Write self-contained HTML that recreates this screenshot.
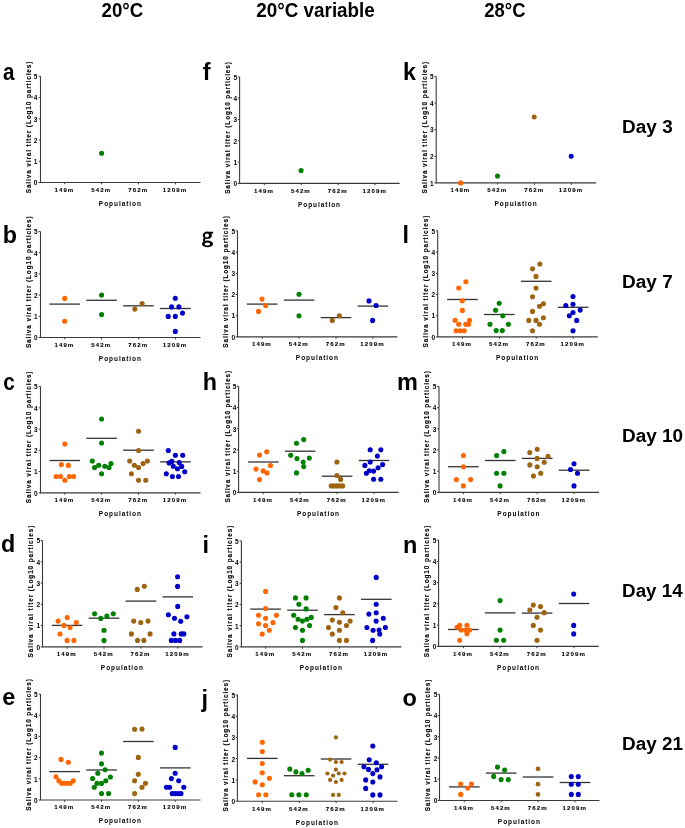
<!DOCTYPE html><html><head><meta charset="utf-8"><style>html,body{margin:0;padding:0;background:#fff;overflow:hidden;}svg{display:block;will-change:transform}text{font-family:"Liberation Sans",sans-serif;font-weight:bold}</style></head><body>
<svg width="685" height="828" viewBox="0 0 685 828">
<rect width="685" height="828" fill="#fff"/>
<text x="122.35" y="16.5" font-size="19.3" text-anchor="middle" textLength="41.6" lengthAdjust="spacingAndGlyphs">20°C</text>
<text x="315.55" y="16.8" font-size="19.3" text-anchor="middle" textLength="118.5" lengthAdjust="spacingAndGlyphs">20°C variable</text>
<text x="504.95" y="16.5" font-size="19.3" text-anchor="middle" textLength="41.2" lengthAdjust="spacingAndGlyphs">28°C</text>
<text x="622.1" y="133.2" font-size="18.3" textLength="50.6" lengthAdjust="spacingAndGlyphs">Day 3</text>
<text x="622.1" y="287.9" font-size="18.3" textLength="50.6" lengthAdjust="spacingAndGlyphs">Day 7</text>
<text x="622.1" y="441.6" font-size="18.3" textLength="61.0" lengthAdjust="spacingAndGlyphs">Day 10</text>
<text x="622.1" y="596.9" font-size="18.3" textLength="60.6" lengthAdjust="spacingAndGlyphs">Day 14</text>
<text x="622.1" y="750.4" font-size="18.3" textLength="61.0" lengthAdjust="spacingAndGlyphs">Day 21</text>
<text transform="translate(3.04 80.1) scale(0.88 1)" font-size="23.5">a</text>
<text transform="translate(2.70 242.8) scale(1 1)" font-size="23.3">b</text>
<text transform="translate(3.14 389.7) scale(0.88 1)" font-size="23.5">c</text>
<text transform="translate(1.00 551.5) scale(1 1)" font-size="23.3">d</text>
<text transform="translate(2.20 705.2) scale(1 1)" font-size="23.5">e</text>
<text transform="translate(202.70 80.1) scale(1 1)" font-size="23.3">f</text>
<path fill="#000" fill-rule="evenodd" d="M202.70 235.35a4.6 3.75 0 1 0 9.20 0a4.6 3.75 0 1 0 -9.20 0ZM204.90 235.50a2.05 2.0 0 1 0 4.10 0a2.05 2.0 0 1 0 -4.10 0ZM202.00 243.90a5.5 3.4 0 1 0 11.00 0a5.5 3.4 0 1 0 -11.00 0ZM204.65 244.00a2.75 1.55 0 1 0 5.50 0a2.75 1.55 0 1 0 -5.50 0Z"/><path d="M205.0 238.3 Q203.3 239.7 204.4 241.3" fill="none" stroke="#000" stroke-width="2.0"/><rect x="209.6" y="231.7" width="3.5" height="2.0" fill="#000"/>
<text transform="translate(202.80 389.9) scale(1 1)" font-size="23.3">h</text>
<text transform="translate(202.60 552.6) scale(1 1)" font-size="23.5">i</text>
<text transform="translate(201.40 706.7) scale(1 1)" font-size="23.5">j</text>
<text transform="translate(403.10 80.1) scale(1 1)" font-size="23.3">k</text>
<text transform="translate(402.50 243.0) scale(1 1)" font-size="23.3">l</text>
<text transform="translate(397.10 389.9) scale(1 1)" font-size="23.5">m</text>
<text transform="translate(403.00 552.6) scale(1 1)" font-size="23.5">n</text>
<text transform="translate(402.50 705.9) scale(1 1)" font-size="23.5">o</text>
<g>
<path d="M40.50 76.30V182.50H200.50" fill="none" stroke="#3a3a3a" stroke-width="1.1"/>
<path d="M38.70 182.50H40.50" stroke="#3a3a3a" stroke-width="1"/>
<text transform="translate(37.35 185.30) " font-size="6.5" text-anchor="end">0</text>
<path d="M38.70 161.26H40.50" stroke="#3a3a3a" stroke-width="1"/>
<text transform="translate(37.35 164.06) " font-size="6.5" text-anchor="end">1</text>
<path d="M38.70 140.02H40.50" stroke="#3a3a3a" stroke-width="1"/>
<text transform="translate(37.35 142.82) " font-size="6.5" text-anchor="end">2</text>
<path d="M38.70 118.78H40.50" stroke="#3a3a3a" stroke-width="1"/>
<text transform="translate(37.35 121.58) " font-size="6.5" text-anchor="end">3</text>
<path d="M38.70 97.54H40.50" stroke="#3a3a3a" stroke-width="1"/>
<text transform="translate(37.35 100.34) " font-size="6.5" text-anchor="end">4</text>
<path d="M38.70 76.30H40.50" stroke="#3a3a3a" stroke-width="1"/>
<text transform="translate(37.35 79.10) " font-size="6.5" text-anchor="end">5</text>
<path d="M64.70 182.50V184.30" stroke="#3a3a3a" stroke-width="1"/>
<text transform="translate(64.40 191.70)" font-size="6.1" letter-spacing="1.1" text-anchor="middle" stroke="#000" stroke-width="0.1">149m</text>
<path d="M101.60 182.50V184.30" stroke="#3a3a3a" stroke-width="1"/>
<text transform="translate(101.30 191.70)" font-size="6.1" letter-spacing="1.1" text-anchor="middle" stroke="#000" stroke-width="0.1">542m</text>
<path d="M138.50 182.50V184.30" stroke="#3a3a3a" stroke-width="1"/>
<text transform="translate(138.20 191.70)" font-size="6.1" letter-spacing="1.1" text-anchor="middle" stroke="#000" stroke-width="0.1">762m</text>
<path d="M175.40 182.50V184.30" stroke="#3a3a3a" stroke-width="1"/>
<text transform="translate(175.10 191.70)" font-size="6.1" letter-spacing="1.1" text-anchor="middle" stroke="#000" stroke-width="0.1">1209m</text>
<text transform="translate(120.40 205.90)" font-size="6.5" letter-spacing="0.95" text-anchor="middle">Population</text>
<text transform="translate(31.15 193.25) rotate(-90)" font-size="6.4" letter-spacing="0.9" stroke="#000" stroke-width="0.12">Saliva viral titer (Log10 particles)</text>
<circle cx="101.60" cy="153.30" r="2.55" fill="#008000"/>
</g>
<g>
<path d="M40.50 231.50V337.50H200.50" fill="none" stroke="#3a3a3a" stroke-width="1.1"/>
<path d="M38.70 337.50H40.50" stroke="#3a3a3a" stroke-width="1"/>
<text transform="translate(37.50 340.30) " font-size="6.5" text-anchor="end">0</text>
<path d="M38.70 316.30H40.50" stroke="#3a3a3a" stroke-width="1"/>
<text transform="translate(37.50 319.10) " font-size="6.5" text-anchor="end">1</text>
<path d="M38.70 295.10H40.50" stroke="#3a3a3a" stroke-width="1"/>
<text transform="translate(37.50 297.90) " font-size="6.5" text-anchor="end">2</text>
<path d="M38.70 273.90H40.50" stroke="#3a3a3a" stroke-width="1"/>
<text transform="translate(37.50 276.70) " font-size="6.5" text-anchor="end">3</text>
<path d="M38.70 252.70H40.50" stroke="#3a3a3a" stroke-width="1"/>
<text transform="translate(37.50 255.50) " font-size="6.5" text-anchor="end">4</text>
<path d="M38.70 231.50H40.50" stroke="#3a3a3a" stroke-width="1"/>
<text transform="translate(37.50 234.30) " font-size="6.5" text-anchor="end">5</text>
<path d="M64.70 337.50V339.30" stroke="#3a3a3a" stroke-width="1"/>
<text transform="translate(64.40 346.70)" font-size="6.1" letter-spacing="1.1" text-anchor="middle" stroke="#000" stroke-width="0.1">149m</text>
<path d="M101.60 337.50V339.30" stroke="#3a3a3a" stroke-width="1"/>
<text transform="translate(101.30 346.70)" font-size="6.1" letter-spacing="1.1" text-anchor="middle" stroke="#000" stroke-width="0.1">542m</text>
<path d="M138.50 337.50V339.30" stroke="#3a3a3a" stroke-width="1"/>
<text transform="translate(138.20 346.70)" font-size="6.1" letter-spacing="1.1" text-anchor="middle" stroke="#000" stroke-width="0.1">762m</text>
<path d="M175.40 337.50V339.30" stroke="#3a3a3a" stroke-width="1"/>
<text transform="translate(175.10 346.70)" font-size="6.1" letter-spacing="1.1" text-anchor="middle" stroke="#000" stroke-width="0.1">1209m</text>
<text transform="translate(120.40 360.90)" font-size="6.5" letter-spacing="0.95" text-anchor="middle">Population</text>
<text transform="translate(30.85 348.10) rotate(-90)" font-size="6.4" letter-spacing="0.9" stroke="#000" stroke-width="0.12">Saliva viral titer (Log10 particles)</text>
<path d="M49.40 304.10H80.00" stroke="#333" stroke-width="1.3"/>
<path d="M86.30 300.30H116.90" stroke="#333" stroke-width="1.3"/>
<path d="M123.20 305.80H153.80" stroke="#333" stroke-width="1.3"/>
<path d="M160.10 308.50H190.70" stroke="#333" stroke-width="1.3"/>
<circle cx="64.70" cy="298.40" r="2.55" fill="#ff6600"/>
<circle cx="64.70" cy="321.20" r="2.55" fill="#ff6600"/>
<circle cx="101.60" cy="295.10" r="2.55" fill="#008000"/>
<circle cx="101.60" cy="314.60" r="2.55" fill="#008000"/>
<circle cx="134.80" cy="309.10" r="2.55" fill="#9e6412"/>
<circle cx="142.10" cy="303.50" r="2.55" fill="#9e6412"/>
<circle cx="175.30" cy="298.30" r="2.55" fill="#0000c8"/>
<circle cx="171.65" cy="306.90" r="2.55" fill="#0000c8"/>
<circle cx="178.90" cy="306.90" r="2.55" fill="#0000c8"/>
<circle cx="182.50" cy="313.10" r="2.55" fill="#0000c8"/>
<circle cx="168.20" cy="316.40" r="2.55" fill="#0000c8"/>
<circle cx="175.30" cy="316.40" r="2.55" fill="#0000c8"/>
<circle cx="175.30" cy="331.40" r="2.55" fill="#0000c8"/>
</g>
<g>
<path d="M40.50 386.60V492.90H200.50" fill="none" stroke="#3a3a3a" stroke-width="1.1"/>
<path d="M38.70 492.90H40.50" stroke="#3a3a3a" stroke-width="1"/>
<text transform="translate(37.50 495.70) " font-size="6.5" text-anchor="end">0</text>
<path d="M38.70 471.64H40.50" stroke="#3a3a3a" stroke-width="1"/>
<text transform="translate(37.50 474.44) " font-size="6.5" text-anchor="end">1</text>
<path d="M38.70 450.38H40.50" stroke="#3a3a3a" stroke-width="1"/>
<text transform="translate(37.50 453.18) " font-size="6.5" text-anchor="end">2</text>
<path d="M38.70 429.12H40.50" stroke="#3a3a3a" stroke-width="1"/>
<text transform="translate(37.50 431.92) " font-size="6.5" text-anchor="end">3</text>
<path d="M38.70 407.86H40.50" stroke="#3a3a3a" stroke-width="1"/>
<text transform="translate(37.50 410.66) " font-size="6.5" text-anchor="end">4</text>
<path d="M38.70 386.60H40.50" stroke="#3a3a3a" stroke-width="1"/>
<text transform="translate(37.50 389.40) " font-size="6.5" text-anchor="end">5</text>
<path d="M64.70 492.90V494.70" stroke="#3a3a3a" stroke-width="1"/>
<text transform="translate(64.40 502.10)" font-size="6.1" letter-spacing="1.1" text-anchor="middle" stroke="#000" stroke-width="0.1">149m</text>
<path d="M101.60 492.90V494.70" stroke="#3a3a3a" stroke-width="1"/>
<text transform="translate(101.30 502.10)" font-size="6.1" letter-spacing="1.1" text-anchor="middle" stroke="#000" stroke-width="0.1">542m</text>
<path d="M138.50 492.90V494.70" stroke="#3a3a3a" stroke-width="1"/>
<text transform="translate(138.20 502.10)" font-size="6.1" letter-spacing="1.1" text-anchor="middle" stroke="#000" stroke-width="0.1">762m</text>
<path d="M175.40 492.90V494.70" stroke="#3a3a3a" stroke-width="1"/>
<text transform="translate(175.10 502.10)" font-size="6.1" letter-spacing="1.1" text-anchor="middle" stroke="#000" stroke-width="0.1">1209m</text>
<text transform="translate(120.40 516.30)" font-size="6.5" letter-spacing="0.95" text-anchor="middle">Population</text>
<text transform="translate(30.85 503.20) rotate(-90)" font-size="6.4" letter-spacing="0.9" stroke="#000" stroke-width="0.12">Saliva viral titer (Log10 particles)</text>
<path d="M49.40 460.50H80.00" stroke="#333" stroke-width="1.3"/>
<path d="M86.30 438.30H116.90" stroke="#333" stroke-width="1.3"/>
<path d="M123.20 450.20H153.80" stroke="#333" stroke-width="1.3"/>
<path d="M160.10 461.90H190.70" stroke="#333" stroke-width="1.3"/>
<circle cx="64.85" cy="444.10" r="2.55" fill="#ff6600"/>
<circle cx="61.35" cy="464.60" r="2.55" fill="#ff6600"/>
<circle cx="68.36" cy="465.40" r="2.55" fill="#ff6600"/>
<circle cx="56.10" cy="476.50" r="2.55" fill="#ff6600"/>
<circle cx="60.50" cy="476.50" r="2.55" fill="#ff6600"/>
<circle cx="69.30" cy="476.50" r="2.55" fill="#ff6600"/>
<circle cx="73.60" cy="476.50" r="2.55" fill="#ff6600"/>
<circle cx="64.85" cy="480.30" r="2.55" fill="#ff6600"/>
<circle cx="101.60" cy="419.00" r="2.55" fill="#008000"/>
<circle cx="101.60" cy="443.00" r="2.55" fill="#008000"/>
<circle cx="92.30" cy="461.00" r="2.55" fill="#008000"/>
<circle cx="98.70" cy="465.20" r="2.55" fill="#008000"/>
<circle cx="94.60" cy="467.50" r="2.55" fill="#008000"/>
<circle cx="104.80" cy="466.30" r="2.55" fill="#008000"/>
<circle cx="111.00" cy="463.60" r="2.55" fill="#008000"/>
<circle cx="109.00" cy="467.50" r="2.55" fill="#008000"/>
<circle cx="101.60" cy="473.80" r="2.55" fill="#008000"/>
<circle cx="138.55" cy="431.30" r="2.55" fill="#9e6412"/>
<circle cx="138.55" cy="450.50" r="2.55" fill="#9e6412"/>
<circle cx="129.70" cy="461.00" r="2.55" fill="#9e6412"/>
<circle cx="134.35" cy="465.20" r="2.55" fill="#9e6412"/>
<circle cx="138.55" cy="467.50" r="2.55" fill="#9e6412"/>
<circle cx="143.10" cy="463.60" r="2.55" fill="#9e6412"/>
<circle cx="147.40" cy="461.00" r="2.55" fill="#9e6412"/>
<circle cx="131.40" cy="473.80" r="2.55" fill="#9e6412"/>
<circle cx="138.55" cy="480.30" r="2.55" fill="#9e6412"/>
<circle cx="145.80" cy="480.30" r="2.55" fill="#9e6412"/>
<circle cx="168.30" cy="450.50" r="2.55" fill="#0000c8"/>
<circle cx="175.40" cy="455.30" r="2.55" fill="#0000c8"/>
<circle cx="182.70" cy="455.30" r="2.55" fill="#0000c8"/>
<circle cx="171.90" cy="461.40" r="2.55" fill="#0000c8"/>
<circle cx="169.10" cy="462.90" r="2.55" fill="#0000c8"/>
<circle cx="179.20" cy="462.50" r="2.55" fill="#0000c8"/>
<circle cx="173.30" cy="466.30" r="2.55" fill="#0000c8"/>
<circle cx="181.70" cy="466.40" r="2.55" fill="#0000c8"/>
<circle cx="177.50" cy="468.80" r="2.55" fill="#0000c8"/>
<circle cx="184.70" cy="471.70" r="2.55" fill="#0000c8"/>
<circle cx="166.30" cy="473.70" r="2.55" fill="#0000c8"/>
<circle cx="172.40" cy="476.50" r="2.55" fill="#0000c8"/>
<circle cx="178.50" cy="476.50" r="2.55" fill="#0000c8"/>
</g>
<g>
<path d="M42.50 540.50V646.90H202.50" fill="none" stroke="#3a3a3a" stroke-width="1.1"/>
<path d="M40.70 646.90H42.50" stroke="#3a3a3a" stroke-width="1"/>
<text transform="translate(40.00 649.70) " font-size="6.5" text-anchor="end">0</text>
<path d="M40.70 625.62H42.50" stroke="#3a3a3a" stroke-width="1"/>
<text transform="translate(40.00 628.42) " font-size="6.5" text-anchor="end">1</text>
<path d="M40.70 604.34H42.50" stroke="#3a3a3a" stroke-width="1"/>
<text transform="translate(40.00 607.14) " font-size="6.5" text-anchor="end">2</text>
<path d="M40.70 583.06H42.50" stroke="#3a3a3a" stroke-width="1"/>
<text transform="translate(40.00 585.86) " font-size="6.5" text-anchor="end">3</text>
<path d="M40.70 561.78H42.50" stroke="#3a3a3a" stroke-width="1"/>
<text transform="translate(40.00 564.58) " font-size="6.5" text-anchor="end">4</text>
<path d="M40.70 540.50H42.50" stroke="#3a3a3a" stroke-width="1"/>
<text transform="translate(40.00 543.30) " font-size="6.5" text-anchor="end">5</text>
<path d="M67.10 646.90V648.70" stroke="#3a3a3a" stroke-width="1"/>
<text transform="translate(66.80 656.10)" font-size="6.1" letter-spacing="1.1" text-anchor="middle" stroke="#000" stroke-width="0.1">149m</text>
<path d="M104.00 646.90V648.70" stroke="#3a3a3a" stroke-width="1"/>
<text transform="translate(103.70 656.10)" font-size="6.1" letter-spacing="1.1" text-anchor="middle" stroke="#000" stroke-width="0.1">542m</text>
<path d="M140.90 646.90V648.70" stroke="#3a3a3a" stroke-width="1"/>
<text transform="translate(140.60 656.10)" font-size="6.1" letter-spacing="1.1" text-anchor="middle" stroke="#000" stroke-width="0.1">762m</text>
<path d="M177.80 646.90V648.70" stroke="#3a3a3a" stroke-width="1"/>
<text transform="translate(177.50 656.10)" font-size="6.1" letter-spacing="1.1" text-anchor="middle" stroke="#000" stroke-width="0.1">1209m</text>
<text transform="translate(122.40 670.30)" font-size="6.5" letter-spacing="0.95" text-anchor="middle">Population</text>
<text transform="translate(32.90 657.40) rotate(-90)" font-size="6.4" letter-spacing="0.9" stroke="#000" stroke-width="0.12">Saliva viral titer (Log10 particles)</text>
<path d="M51.80 625.40H82.40" stroke="#333" stroke-width="1.3"/>
<path d="M88.70 618.20H119.30" stroke="#333" stroke-width="1.3"/>
<path d="M125.60 601.10H156.20" stroke="#333" stroke-width="1.3"/>
<path d="M162.50 596.90H193.10" stroke="#333" stroke-width="1.3"/>
<circle cx="67.20" cy="617.50" r="2.55" fill="#ff6600"/>
<circle cx="58.10" cy="621.10" r="2.55" fill="#ff6600"/>
<circle cx="76.30" cy="622.50" r="2.55" fill="#ff6600"/>
<circle cx="63.90" cy="625.40" r="2.55" fill="#ff6600"/>
<circle cx="70.10" cy="627.50" r="2.55" fill="#ff6600"/>
<circle cx="60.00" cy="634.00" r="2.55" fill="#ff6600"/>
<circle cx="67.10" cy="640.40" r="2.55" fill="#ff6600"/>
<circle cx="73.90" cy="640.40" r="2.55" fill="#ff6600"/>
<circle cx="94.60" cy="613.70" r="2.55" fill="#008000"/>
<circle cx="100.80" cy="618.40" r="2.55" fill="#008000"/>
<circle cx="106.90" cy="616.10" r="2.55" fill="#008000"/>
<circle cx="113.30" cy="613.70" r="2.55" fill="#008000"/>
<circle cx="104.00" cy="630.30" r="2.55" fill="#008000"/>
<circle cx="104.00" cy="640.40" r="2.55" fill="#008000"/>
<circle cx="137.30" cy="589.40" r="2.55" fill="#9e6412"/>
<circle cx="144.30" cy="586.30" r="2.55" fill="#9e6412"/>
<circle cx="133.70" cy="621.10" r="2.55" fill="#9e6412"/>
<circle cx="140.80" cy="622.50" r="2.55" fill="#9e6412"/>
<circle cx="148.00" cy="621.10" r="2.55" fill="#9e6412"/>
<circle cx="131.40" cy="633.90" r="2.55" fill="#9e6412"/>
<circle cx="150.10" cy="633.90" r="2.55" fill="#9e6412"/>
<circle cx="137.50" cy="640.40" r="2.55" fill="#9e6412"/>
<circle cx="143.90" cy="640.40" r="2.55" fill="#9e6412"/>
<circle cx="177.60" cy="576.70" r="2.55" fill="#0000c8"/>
<circle cx="177.60" cy="586.40" r="2.55" fill="#0000c8"/>
<circle cx="177.70" cy="606.40" r="2.55" fill="#0000c8"/>
<circle cx="168.40" cy="614.70" r="2.55" fill="#0000c8"/>
<circle cx="174.50" cy="618.30" r="2.55" fill="#0000c8"/>
<circle cx="186.90" cy="616.70" r="2.55" fill="#0000c8"/>
<circle cx="180.70" cy="621.30" r="2.55" fill="#0000c8"/>
<circle cx="173.90" cy="633.90" r="2.55" fill="#0000c8"/>
<circle cx="181.20" cy="633.90" r="2.55" fill="#0000c8"/>
<circle cx="183.80" cy="633.90" r="2.55" fill="#0000c8"/>
<circle cx="171.30" cy="640.40" r="2.55" fill="#0000c8"/>
<circle cx="175.50" cy="640.40" r="2.55" fill="#0000c8"/>
<circle cx="179.70" cy="640.40" r="2.55" fill="#0000c8"/>
</g>
<g>
<path d="M40.50 694.10V800.00H200.50" fill="none" stroke="#3a3a3a" stroke-width="1.1"/>
<path d="M38.70 800.00H40.50" stroke="#3a3a3a" stroke-width="1"/>
<text transform="translate(37.60 802.80) " font-size="6.5" text-anchor="end">0</text>
<path d="M38.70 778.82H40.50" stroke="#3a3a3a" stroke-width="1"/>
<text transform="translate(37.60 781.62) " font-size="6.5" text-anchor="end">1</text>
<path d="M38.70 757.64H40.50" stroke="#3a3a3a" stroke-width="1"/>
<text transform="translate(37.60 760.44) " font-size="6.5" text-anchor="end">2</text>
<path d="M38.70 736.46H40.50" stroke="#3a3a3a" stroke-width="1"/>
<text transform="translate(37.60 739.26) " font-size="6.5" text-anchor="end">3</text>
<path d="M38.70 715.28H40.50" stroke="#3a3a3a" stroke-width="1"/>
<text transform="translate(37.60 718.08) " font-size="6.5" text-anchor="end">4</text>
<path d="M38.70 694.10H40.50" stroke="#3a3a3a" stroke-width="1"/>
<text transform="translate(37.60 696.90) " font-size="6.5" text-anchor="end">5</text>
<path d="M64.60 800.00V801.80" stroke="#3a3a3a" stroke-width="1"/>
<text transform="translate(64.30 809.20)" font-size="6.1" letter-spacing="1.1" text-anchor="middle" stroke="#000" stroke-width="0.1">149m</text>
<path d="M101.50 800.00V801.80" stroke="#3a3a3a" stroke-width="1"/>
<text transform="translate(101.20 809.20)" font-size="6.1" letter-spacing="1.1" text-anchor="middle" stroke="#000" stroke-width="0.1">542m</text>
<path d="M138.40 800.00V801.80" stroke="#3a3a3a" stroke-width="1"/>
<text transform="translate(138.10 809.20)" font-size="6.1" letter-spacing="1.1" text-anchor="middle" stroke="#000" stroke-width="0.1">762m</text>
<path d="M175.30 800.00V801.80" stroke="#3a3a3a" stroke-width="1"/>
<text transform="translate(175.00 809.20)" font-size="6.1" letter-spacing="1.1" text-anchor="middle" stroke="#000" stroke-width="0.1">1209m</text>
<text transform="translate(120.40 823.40)" font-size="6.5" letter-spacing="0.95" text-anchor="middle">Population</text>
<text transform="translate(30.70 810.80) rotate(-90)" font-size="6.4" letter-spacing="0.9" stroke="#000" stroke-width="0.12">Saliva viral titer (Log10 particles)</text>
<path d="M49.30 771.60H79.90" stroke="#333" stroke-width="1.3"/>
<path d="M86.20 770.00H116.80" stroke="#333" stroke-width="1.3"/>
<path d="M123.10 741.50H153.70" stroke="#333" stroke-width="1.3"/>
<path d="M160.00 767.90H190.60" stroke="#333" stroke-width="1.3"/>
<circle cx="61.00" cy="759.40" r="2.55" fill="#ff6600"/>
<circle cx="68.30" cy="762.20" r="2.55" fill="#ff6600"/>
<circle cx="56.00" cy="776.80" r="2.55" fill="#ff6600"/>
<circle cx="58.90" cy="780.70" r="2.55" fill="#ff6600"/>
<circle cx="73.30" cy="780.70" r="2.55" fill="#ff6600"/>
<circle cx="61.60" cy="783.30" r="2.55" fill="#ff6600"/>
<circle cx="64.50" cy="783.30" r="2.55" fill="#ff6600"/>
<circle cx="67.40" cy="783.30" r="2.55" fill="#ff6600"/>
<circle cx="70.30" cy="783.30" r="2.55" fill="#ff6600"/>
<circle cx="101.50" cy="753.10" r="2.55" fill="#008000"/>
<circle cx="101.50" cy="763.80" r="2.55" fill="#008000"/>
<circle cx="105.10" cy="769.80" r="2.55" fill="#008000"/>
<circle cx="97.80" cy="773.20" r="2.55" fill="#008000"/>
<circle cx="92.60" cy="778.50" r="2.55" fill="#008000"/>
<circle cx="110.40" cy="777.00" r="2.55" fill="#008000"/>
<circle cx="105.80" cy="780.70" r="2.55" fill="#008000"/>
<circle cx="97.00" cy="783.20" r="2.55" fill="#008000"/>
<circle cx="101.50" cy="783.40" r="2.55" fill="#008000"/>
<circle cx="94.30" cy="787.20" r="2.55" fill="#008000"/>
<circle cx="101.50" cy="793.50" r="2.55" fill="#008000"/>
<circle cx="108.60" cy="793.50" r="2.55" fill="#008000"/>
<circle cx="134.60" cy="729.20" r="2.55" fill="#9e6412"/>
<circle cx="142.00" cy="729.00" r="2.55" fill="#9e6412"/>
<circle cx="138.30" cy="757.40" r="2.55" fill="#9e6412"/>
<circle cx="138.30" cy="774.30" r="2.55" fill="#9e6412"/>
<circle cx="134.60" cy="780.80" r="2.55" fill="#9e6412"/>
<circle cx="145.50" cy="783.30" r="2.55" fill="#9e6412"/>
<circle cx="142.00" cy="787.20" r="2.55" fill="#9e6412"/>
<circle cx="134.60" cy="793.60" r="2.55" fill="#9e6412"/>
<circle cx="175.20" cy="747.40" r="2.55" fill="#0000c8"/>
<circle cx="175.20" cy="773.30" r="2.55" fill="#0000c8"/>
<circle cx="171.40" cy="778.60" r="2.55" fill="#0000c8"/>
<circle cx="178.70" cy="780.80" r="2.55" fill="#0000c8"/>
<circle cx="166.50" cy="787.20" r="2.55" fill="#0000c8"/>
<circle cx="169.60" cy="787.20" r="2.55" fill="#0000c8"/>
<circle cx="183.80" cy="787.20" r="2.55" fill="#0000c8"/>
<circle cx="172.20" cy="793.60" r="2.55" fill="#0000c8"/>
<circle cx="175.20" cy="793.60" r="2.55" fill="#0000c8"/>
<circle cx="178.20" cy="793.60" r="2.55" fill="#0000c8"/>
<circle cx="181.00" cy="793.60" r="2.55" fill="#0000c8"/>
</g>
<g>
<path d="M239.60 76.90V183.40H399.60" fill="none" stroke="#3a3a3a" stroke-width="1.1"/>
<path d="M237.80 183.40H239.60" stroke="#3a3a3a" stroke-width="1"/>
<text transform="translate(237.10 186.20) " font-size="6.5" text-anchor="end">0</text>
<path d="M237.80 162.10H239.60" stroke="#3a3a3a" stroke-width="1"/>
<text transform="translate(237.10 164.90) " font-size="6.5" text-anchor="end">1</text>
<path d="M237.80 140.80H239.60" stroke="#3a3a3a" stroke-width="1"/>
<text transform="translate(237.10 143.60) " font-size="6.5" text-anchor="end">2</text>
<path d="M237.80 119.50H239.60" stroke="#3a3a3a" stroke-width="1"/>
<text transform="translate(237.10 122.30) " font-size="6.5" text-anchor="end">3</text>
<path d="M237.80 98.20H239.60" stroke="#3a3a3a" stroke-width="1"/>
<text transform="translate(237.10 101.00) " font-size="6.5" text-anchor="end">4</text>
<path d="M237.80 76.90H239.60" stroke="#3a3a3a" stroke-width="1"/>
<text transform="translate(237.10 79.70) " font-size="6.5" text-anchor="end">5</text>
<path d="M264.30 183.40V185.20" stroke="#3a3a3a" stroke-width="1"/>
<text transform="translate(264.00 192.60)" font-size="6.1" letter-spacing="1.1" text-anchor="middle" stroke="#000" stroke-width="0.1">149m</text>
<path d="M301.20 183.40V185.20" stroke="#3a3a3a" stroke-width="1"/>
<text transform="translate(300.90 192.60)" font-size="6.1" letter-spacing="1.1" text-anchor="middle" stroke="#000" stroke-width="0.1">542m</text>
<path d="M338.10 183.40V185.20" stroke="#3a3a3a" stroke-width="1"/>
<text transform="translate(337.80 192.60)" font-size="6.1" letter-spacing="1.1" text-anchor="middle" stroke="#000" stroke-width="0.1">762m</text>
<path d="M375.00 183.40V185.20" stroke="#3a3a3a" stroke-width="1"/>
<text transform="translate(374.70 192.60)" font-size="6.1" letter-spacing="1.1" text-anchor="middle" stroke="#000" stroke-width="0.1">1209m</text>
<text transform="translate(319.50 206.80)" font-size="6.5" letter-spacing="0.95" text-anchor="middle">Population</text>
<text transform="translate(230.10 193.80) rotate(-90)" font-size="6.4" letter-spacing="0.9" stroke="#000" stroke-width="0.12">Saliva viral titer (Log10 particles)</text>
<circle cx="301.10" cy="170.50" r="2.55" fill="#008000"/>
</g>
<g>
<path d="M237.50 230.80V336.90H397.50" fill="none" stroke="#3a3a3a" stroke-width="1.1"/>
<path d="M235.70 336.90H237.50" stroke="#3a3a3a" stroke-width="1"/>
<text transform="translate(235.10 339.70) " font-size="6.5" text-anchor="end">0</text>
<path d="M235.70 315.68H237.50" stroke="#3a3a3a" stroke-width="1"/>
<text transform="translate(235.10 318.48) " font-size="6.5" text-anchor="end">1</text>
<path d="M235.70 294.46H237.50" stroke="#3a3a3a" stroke-width="1"/>
<text transform="translate(235.10 297.26) " font-size="6.5" text-anchor="end">2</text>
<path d="M235.70 273.24H237.50" stroke="#3a3a3a" stroke-width="1"/>
<text transform="translate(235.10 276.04) " font-size="6.5" text-anchor="end">3</text>
<path d="M235.70 252.02H237.50" stroke="#3a3a3a" stroke-width="1"/>
<text transform="translate(235.10 254.82) " font-size="6.5" text-anchor="end">4</text>
<path d="M235.70 230.80H237.50" stroke="#3a3a3a" stroke-width="1"/>
<text transform="translate(235.10 233.60) " font-size="6.5" text-anchor="end">5</text>
<path d="M262.20 336.90V338.70" stroke="#3a3a3a" stroke-width="1"/>
<text transform="translate(261.90 346.10)" font-size="6.1" letter-spacing="1.1" text-anchor="middle" stroke="#000" stroke-width="0.1">149m</text>
<path d="M299.10 336.90V338.70" stroke="#3a3a3a" stroke-width="1"/>
<text transform="translate(298.80 346.10)" font-size="6.1" letter-spacing="1.1" text-anchor="middle" stroke="#000" stroke-width="0.1">542m</text>
<path d="M336.00 336.90V338.70" stroke="#3a3a3a" stroke-width="1"/>
<text transform="translate(335.70 346.10)" font-size="6.1" letter-spacing="1.1" text-anchor="middle" stroke="#000" stroke-width="0.1">762m</text>
<path d="M372.90 336.90V338.70" stroke="#3a3a3a" stroke-width="1"/>
<text transform="translate(372.60 346.10)" font-size="6.1" letter-spacing="1.1" text-anchor="middle" stroke="#000" stroke-width="0.1">1209m</text>
<text transform="translate(317.40 360.30)" font-size="6.5" letter-spacing="0.95" text-anchor="middle">Population</text>
<text transform="translate(227.90 347.70) rotate(-90)" font-size="6.4" letter-spacing="0.9" stroke="#000" stroke-width="0.12">Saliva viral titer (Log10 particles)</text>
<path d="M246.90 304.10H277.50" stroke="#333" stroke-width="1.3"/>
<path d="M283.80 300.10H314.40" stroke="#333" stroke-width="1.3"/>
<path d="M320.70 317.60H351.30" stroke="#333" stroke-width="1.3"/>
<path d="M357.60 306.10H388.20" stroke="#333" stroke-width="1.3"/>
<circle cx="262.00" cy="299.10" r="2.55" fill="#ff6600"/>
<circle cx="265.70" cy="305.50" r="2.55" fill="#ff6600"/>
<circle cx="258.50" cy="311.40" r="2.55" fill="#ff6600"/>
<circle cx="299.00" cy="294.20" r="2.55" fill="#008000"/>
<circle cx="299.00" cy="315.70" r="2.55" fill="#008000"/>
<circle cx="332.30" cy="320.40" r="2.55" fill="#9e6412"/>
<circle cx="339.30" cy="315.70" r="2.55" fill="#9e6412"/>
<circle cx="369.00" cy="300.90" r="2.55" fill="#0000c8"/>
<circle cx="376.10" cy="305.50" r="2.55" fill="#0000c8"/>
<circle cx="372.60" cy="320.40" r="2.55" fill="#0000c8"/>
</g>
<g>
<path d="M238.60 386.30V492.40H398.60" fill="none" stroke="#3a3a3a" stroke-width="1.1"/>
<path d="M236.80 492.40H238.60" stroke="#3a3a3a" stroke-width="1"/>
<text transform="translate(236.30 495.20) " font-size="6.5" text-anchor="end">0</text>
<path d="M236.80 471.18H238.60" stroke="#3a3a3a" stroke-width="1"/>
<text transform="translate(236.30 473.98) " font-size="6.5" text-anchor="end">1</text>
<path d="M236.80 449.96H238.60" stroke="#3a3a3a" stroke-width="1"/>
<text transform="translate(236.30 452.76) " font-size="6.5" text-anchor="end">2</text>
<path d="M236.80 428.74H238.60" stroke="#3a3a3a" stroke-width="1"/>
<text transform="translate(236.30 431.54) " font-size="6.5" text-anchor="end">3</text>
<path d="M236.80 407.52H238.60" stroke="#3a3a3a" stroke-width="1"/>
<text transform="translate(236.30 410.32) " font-size="6.5" text-anchor="end">4</text>
<path d="M236.80 386.30H238.60" stroke="#3a3a3a" stroke-width="1"/>
<text transform="translate(236.30 389.10) " font-size="6.5" text-anchor="end">5</text>
<path d="M263.30 492.40V494.20" stroke="#3a3a3a" stroke-width="1"/>
<text transform="translate(263.00 501.60)" font-size="6.1" letter-spacing="1.1" text-anchor="middle" stroke="#000" stroke-width="0.1">149m</text>
<path d="M300.20 492.40V494.20" stroke="#3a3a3a" stroke-width="1"/>
<text transform="translate(299.90 501.60)" font-size="6.1" letter-spacing="1.1" text-anchor="middle" stroke="#000" stroke-width="0.1">542m</text>
<path d="M337.10 492.40V494.20" stroke="#3a3a3a" stroke-width="1"/>
<text transform="translate(336.80 501.60)" font-size="6.1" letter-spacing="1.1" text-anchor="middle" stroke="#000" stroke-width="0.1">762m</text>
<path d="M374.00 492.40V494.20" stroke="#3a3a3a" stroke-width="1"/>
<text transform="translate(373.70 501.60)" font-size="6.1" letter-spacing="1.1" text-anchor="middle" stroke="#000" stroke-width="0.1">1209m</text>
<text transform="translate(318.50 515.80)" font-size="6.5" letter-spacing="0.95" text-anchor="middle">Population</text>
<text transform="translate(229.50 502.60) rotate(-90)" font-size="6.4" letter-spacing="0.9" stroke="#000" stroke-width="0.12">Saliva viral titer (Log10 particles)</text>
<path d="M248.00 462.00H278.60" stroke="#333" stroke-width="1.3"/>
<path d="M284.90 451.20H315.50" stroke="#333" stroke-width="1.3"/>
<path d="M321.80 476.20H352.40" stroke="#333" stroke-width="1.3"/>
<path d="M358.70 460.50H389.30" stroke="#333" stroke-width="1.3"/>
<circle cx="266.70" cy="451.80" r="2.55" fill="#ff6600"/>
<circle cx="259.50" cy="455.00" r="2.55" fill="#ff6600"/>
<circle cx="270.50" cy="465.50" r="2.55" fill="#ff6600"/>
<circle cx="256.00" cy="469.10" r="2.55" fill="#ff6600"/>
<circle cx="263.10" cy="470.90" r="2.55" fill="#ff6600"/>
<circle cx="266.90" cy="472.90" r="2.55" fill="#ff6600"/>
<circle cx="259.50" cy="479.60" r="2.55" fill="#ff6600"/>
<circle cx="303.70" cy="439.50" r="2.55" fill="#008000"/>
<circle cx="296.50" cy="443.30" r="2.55" fill="#008000"/>
<circle cx="290.70" cy="455.20" r="2.55" fill="#008000"/>
<circle cx="297.00" cy="458.60" r="2.55" fill="#008000"/>
<circle cx="309.30" cy="458.10" r="2.55" fill="#008000"/>
<circle cx="303.20" cy="462.00" r="2.55" fill="#008000"/>
<circle cx="303.70" cy="466.50" r="2.55" fill="#008000"/>
<circle cx="296.50" cy="472.90" r="2.55" fill="#008000"/>
<circle cx="336.90" cy="462.00" r="2.55" fill="#9e6412"/>
<circle cx="336.90" cy="475.50" r="2.55" fill="#9e6412"/>
<circle cx="340.60" cy="479.40" r="2.55" fill="#9e6412"/>
<circle cx="331.20" cy="485.90" r="2.55" fill="#9e6412"/>
<circle cx="334.00" cy="485.90" r="2.55" fill="#9e6412"/>
<circle cx="336.90" cy="485.90" r="2.55" fill="#9e6412"/>
<circle cx="339.80" cy="485.90" r="2.55" fill="#9e6412"/>
<circle cx="342.60" cy="485.90" r="2.55" fill="#9e6412"/>
<circle cx="370.20" cy="449.70" r="2.55" fill="#0000c8"/>
<circle cx="380.80" cy="449.70" r="2.55" fill="#0000c8"/>
<circle cx="377.40" cy="456.00" r="2.55" fill="#0000c8"/>
<circle cx="370.20" cy="462.00" r="2.55" fill="#0000c8"/>
<circle cx="364.90" cy="465.40" r="2.55" fill="#0000c8"/>
<circle cx="382.60" cy="464.60" r="2.55" fill="#0000c8"/>
<circle cx="378.10" cy="467.70" r="2.55" fill="#0000c8"/>
<circle cx="369.30" cy="470.70" r="2.55" fill="#0000c8"/>
<circle cx="373.60" cy="471.10" r="2.55" fill="#0000c8"/>
<circle cx="366.40" cy="473.20" r="2.55" fill="#0000c8"/>
<circle cx="373.60" cy="479.30" r="2.55" fill="#0000c8"/>
<circle cx="380.80" cy="479.30" r="2.55" fill="#0000c8"/>
</g>
<g>
<path d="M241.40 540.90V646.90H401.40" fill="none" stroke="#3a3a3a" stroke-width="1.1"/>
<path d="M239.60 646.90H241.40" stroke="#3a3a3a" stroke-width="1"/>
<text transform="translate(238.60 649.70) " font-size="6.5" text-anchor="end">0</text>
<path d="M239.60 625.70H241.40" stroke="#3a3a3a" stroke-width="1"/>
<text transform="translate(238.60 628.50) " font-size="6.5" text-anchor="end">1</text>
<path d="M239.60 604.50H241.40" stroke="#3a3a3a" stroke-width="1"/>
<text transform="translate(238.60 607.30) " font-size="6.5" text-anchor="end">2</text>
<path d="M239.60 583.30H241.40" stroke="#3a3a3a" stroke-width="1"/>
<text transform="translate(238.60 586.10) " font-size="6.5" text-anchor="end">3</text>
<path d="M239.60 562.10H241.40" stroke="#3a3a3a" stroke-width="1"/>
<text transform="translate(238.60 564.90) " font-size="6.5" text-anchor="end">4</text>
<path d="M239.60 540.90H241.40" stroke="#3a3a3a" stroke-width="1"/>
<text transform="translate(238.60 543.70) " font-size="6.5" text-anchor="end">5</text>
<path d="M265.60 646.90V648.70" stroke="#3a3a3a" stroke-width="1"/>
<text transform="translate(265.30 656.10)" font-size="6.1" letter-spacing="1.1" text-anchor="middle" stroke="#000" stroke-width="0.1">149m</text>
<path d="M302.50 646.90V648.70" stroke="#3a3a3a" stroke-width="1"/>
<text transform="translate(302.20 656.10)" font-size="6.1" letter-spacing="1.1" text-anchor="middle" stroke="#000" stroke-width="0.1">542m</text>
<path d="M339.40 646.90V648.70" stroke="#3a3a3a" stroke-width="1"/>
<text transform="translate(339.10 656.10)" font-size="6.1" letter-spacing="1.1" text-anchor="middle" stroke="#000" stroke-width="0.1">762m</text>
<path d="M376.30 646.90V648.70" stroke="#3a3a3a" stroke-width="1"/>
<text transform="translate(376.00 656.10)" font-size="6.1" letter-spacing="1.1" text-anchor="middle" stroke="#000" stroke-width="0.1">1209m</text>
<text transform="translate(321.30 670.30)" font-size="6.5" letter-spacing="0.95" text-anchor="middle">Population</text>
<text transform="translate(232.00 657.40) rotate(-90)" font-size="6.4" letter-spacing="0.9" stroke="#000" stroke-width="0.12">Saliva viral titer (Log10 particles)</text>
<path d="M250.30 609.10H280.90" stroke="#333" stroke-width="1.3"/>
<path d="M287.20 610.20H317.80" stroke="#333" stroke-width="1.3"/>
<path d="M324.10 614.60H354.70" stroke="#333" stroke-width="1.3"/>
<path d="M361.00 599.30H391.60" stroke="#333" stroke-width="1.3"/>
<circle cx="265.60" cy="591.40" r="2.55" fill="#ff6600"/>
<circle cx="265.60" cy="608.50" r="2.55" fill="#ff6600"/>
<circle cx="258.50" cy="615.20" r="2.55" fill="#ff6600"/>
<circle cx="276.40" cy="615.20" r="2.55" fill="#ff6600"/>
<circle cx="265.60" cy="618.20" r="2.55" fill="#ff6600"/>
<circle cx="272.90" cy="622.60" r="2.55" fill="#ff6600"/>
<circle cx="258.50" cy="623.70" r="2.55" fill="#ff6600"/>
<circle cx="265.60" cy="625.50" r="2.55" fill="#ff6600"/>
<circle cx="269.30" cy="630.20" r="2.55" fill="#ff6600"/>
<circle cx="262.20" cy="634.10" r="2.55" fill="#ff6600"/>
<circle cx="295.40" cy="597.90" r="2.55" fill="#008000"/>
<circle cx="306.10" cy="597.90" r="2.55" fill="#008000"/>
<circle cx="298.90" cy="604.30" r="2.55" fill="#008000"/>
<circle cx="306.10" cy="608.90" r="2.55" fill="#008000"/>
<circle cx="293.70" cy="615.20" r="2.55" fill="#008000"/>
<circle cx="298.10" cy="619.30" r="2.55" fill="#008000"/>
<circle cx="302.50" cy="621.10" r="2.55" fill="#008000"/>
<circle cx="306.90" cy="619.30" r="2.55" fill="#008000"/>
<circle cx="311.20" cy="617.40" r="2.55" fill="#008000"/>
<circle cx="295.40" cy="627.50" r="2.55" fill="#008000"/>
<circle cx="309.60" cy="625.50" r="2.55" fill="#008000"/>
<circle cx="302.50" cy="630.20" r="2.55" fill="#008000"/>
<circle cx="302.50" cy="640.40" r="2.55" fill="#008000"/>
<circle cx="339.40" cy="597.90" r="2.55" fill="#9e6412"/>
<circle cx="335.90" cy="607.60" r="2.55" fill="#9e6412"/>
<circle cx="342.80" cy="612.70" r="2.55" fill="#9e6412"/>
<circle cx="332.30" cy="620.10" r="2.55" fill="#9e6412"/>
<circle cx="339.40" cy="622.30" r="2.55" fill="#9e6412"/>
<circle cx="350.10" cy="621.10" r="2.55" fill="#9e6412"/>
<circle cx="346.50" cy="625.50" r="2.55" fill="#9e6412"/>
<circle cx="328.50" cy="627.50" r="2.55" fill="#9e6412"/>
<circle cx="339.40" cy="630.20" r="2.55" fill="#9e6412"/>
<circle cx="332.30" cy="634.10" r="2.55" fill="#9e6412"/>
<circle cx="339.40" cy="640.40" r="2.55" fill="#9e6412"/>
<circle cx="346.50" cy="640.40" r="2.55" fill="#9e6412"/>
<circle cx="376.20" cy="577.40" r="2.55" fill="#0000c8"/>
<circle cx="376.20" cy="604.30" r="2.55" fill="#0000c8"/>
<circle cx="368.90" cy="614.10" r="2.55" fill="#0000c8"/>
<circle cx="376.20" cy="612.70" r="2.55" fill="#0000c8"/>
<circle cx="383.30" cy="618.20" r="2.55" fill="#0000c8"/>
<circle cx="376.20" cy="621.10" r="2.55" fill="#0000c8"/>
<circle cx="366.90" cy="627.50" r="2.55" fill="#0000c8"/>
<circle cx="373.10" cy="630.20" r="2.55" fill="#0000c8"/>
<circle cx="379.10" cy="630.00" r="2.55" fill="#0000c8"/>
<circle cx="385.40" cy="627.50" r="2.55" fill="#0000c8"/>
<circle cx="379.70" cy="634.10" r="2.55" fill="#0000c8"/>
<circle cx="372.60" cy="640.40" r="2.55" fill="#0000c8"/>
</g>
<g>
<path d="M237.40 694.80V801.30H397.40" fill="none" stroke="#3a3a3a" stroke-width="1.1"/>
<path d="M235.60 801.30H237.40" stroke="#3a3a3a" stroke-width="1"/>
<text transform="translate(235.10 804.10) " font-size="6.5" text-anchor="end">0</text>
<path d="M235.60 780.00H237.40" stroke="#3a3a3a" stroke-width="1"/>
<text transform="translate(235.10 782.80) " font-size="6.5" text-anchor="end">1</text>
<path d="M235.60 758.70H237.40" stroke="#3a3a3a" stroke-width="1"/>
<text transform="translate(235.10 761.50) " font-size="6.5" text-anchor="end">2</text>
<path d="M235.60 737.40H237.40" stroke="#3a3a3a" stroke-width="1"/>
<text transform="translate(235.10 740.20) " font-size="6.5" text-anchor="end">3</text>
<path d="M235.60 716.10H237.40" stroke="#3a3a3a" stroke-width="1"/>
<text transform="translate(235.10 718.90) " font-size="6.5" text-anchor="end">4</text>
<path d="M235.60 694.80H237.40" stroke="#3a3a3a" stroke-width="1"/>
<text transform="translate(235.10 697.60) " font-size="6.5" text-anchor="end">5</text>
<path d="M262.30 801.30V803.10" stroke="#3a3a3a" stroke-width="1"/>
<text transform="translate(262.00 810.50)" font-size="6.1" letter-spacing="1.1" text-anchor="middle" stroke="#000" stroke-width="0.1">149m</text>
<path d="M299.20 801.30V803.10" stroke="#3a3a3a" stroke-width="1"/>
<text transform="translate(298.90 810.50)" font-size="6.1" letter-spacing="1.1" text-anchor="middle" stroke="#000" stroke-width="0.1">542m</text>
<path d="M336.10 801.30V803.10" stroke="#3a3a3a" stroke-width="1"/>
<text transform="translate(335.80 810.50)" font-size="6.1" letter-spacing="1.1" text-anchor="middle" stroke="#000" stroke-width="0.1">762m</text>
<path d="M373.00 801.30V803.10" stroke="#3a3a3a" stroke-width="1"/>
<text transform="translate(372.70 810.50)" font-size="6.1" letter-spacing="1.1" text-anchor="middle" stroke="#000" stroke-width="0.1">1209m</text>
<text transform="translate(317.30 824.70)" font-size="6.5" letter-spacing="0.95" text-anchor="middle">Population</text>
<text transform="translate(228.00 811.50) rotate(-90)" font-size="6.4" letter-spacing="0.9" stroke="#000" stroke-width="0.12">Saliva viral titer (Log10 particles)</text>
<path d="M247.00 758.40H277.60" stroke="#333" stroke-width="1.3"/>
<path d="M283.90 775.70H314.50" stroke="#333" stroke-width="1.3"/>
<path d="M320.80 759.00H351.40" stroke="#333" stroke-width="1.3"/>
<path d="M357.70 764.30H388.30" stroke="#333" stroke-width="1.3"/>
<circle cx="262.30" cy="742.20" r="2.55" fill="#ff6600"/>
<circle cx="262.30" cy="751.50" r="2.55" fill="#ff6600"/>
<circle cx="262.30" cy="763.50" r="2.55" fill="#ff6600"/>
<circle cx="262.30" cy="772.80" r="2.55" fill="#ff6600"/>
<circle cx="269.40" cy="778.30" r="2.55" fill="#ff6600"/>
<circle cx="255.10" cy="781.90" r="2.55" fill="#ff6600"/>
<circle cx="262.30" cy="784.70" r="2.55" fill="#ff6600"/>
<circle cx="258.60" cy="794.70" r="2.55" fill="#ff6600"/>
<circle cx="265.90" cy="794.70" r="2.55" fill="#ff6600"/>
<circle cx="289.80" cy="769.10" r="2.55" fill="#008000"/>
<circle cx="295.90" cy="771.90" r="2.55" fill="#008000"/>
<circle cx="302.00" cy="773.50" r="2.55" fill="#008000"/>
<circle cx="308.20" cy="770.20" r="2.55" fill="#008000"/>
<circle cx="291.80" cy="794.70" r="2.55" fill="#008000"/>
<circle cx="298.90" cy="794.70" r="2.55" fill="#008000"/>
<circle cx="306.30" cy="794.70" r="2.55" fill="#008000"/>
<circle cx="335.90" cy="737.40" r="2.1" fill="#9e6412"/>
<circle cx="330.10" cy="759.60" r="2.1" fill="#9e6412"/>
<circle cx="335.90" cy="762.00" r="2.1" fill="#9e6412"/>
<circle cx="341.60" cy="762.00" r="2.1" fill="#9e6412"/>
<circle cx="335.90" cy="769.70" r="2.1" fill="#9e6412"/>
<circle cx="327.40" cy="773.50" r="2.1" fill="#9e6412"/>
<circle cx="333.10" cy="775.60" r="2.1" fill="#9e6412"/>
<circle cx="338.80" cy="773.50" r="2.1" fill="#9e6412"/>
<circle cx="344.50" cy="773.50" r="2.1" fill="#9e6412"/>
<circle cx="330.10" cy="779.90" r="2.1" fill="#9e6412"/>
<circle cx="335.90" cy="782.00" r="2.1" fill="#9e6412"/>
<circle cx="341.60" cy="779.90" r="2.1" fill="#9e6412"/>
<circle cx="333.10" cy="794.90" r="2.1" fill="#9e6412"/>
<circle cx="338.80" cy="794.90" r="2.1" fill="#9e6412"/>
<circle cx="372.80" cy="746.00" r="2.55" fill="#0000c8"/>
<circle cx="369.20" cy="759.70" r="2.55" fill="#0000c8"/>
<circle cx="376.30" cy="762.80" r="2.55" fill="#0000c8"/>
<circle cx="363.90" cy="766.70" r="2.55" fill="#0000c8"/>
<circle cx="381.60" cy="766.70" r="2.55" fill="#0000c8"/>
<circle cx="368.50" cy="769.40" r="2.55" fill="#0000c8"/>
<circle cx="377.00" cy="769.70" r="2.55" fill="#0000c8"/>
<circle cx="372.80" cy="773.60" r="2.55" fill="#0000c8"/>
<circle cx="380.00" cy="776.90" r="2.55" fill="#0000c8"/>
<circle cx="365.70" cy="779.90" r="2.55" fill="#0000c8"/>
<circle cx="372.80" cy="782.00" r="2.55" fill="#0000c8"/>
<circle cx="365.70" cy="788.40" r="2.55" fill="#0000c8"/>
<circle cx="372.80" cy="794.90" r="2.55" fill="#0000c8"/>
<circle cx="380.00" cy="794.90" r="2.55" fill="#0000c8"/>
</g>
<g>
<path d="M436.20 76.40V182.90H596.20" fill="none" stroke="#3a3a3a" stroke-width="1.1"/>
<path d="M434.40 182.90H436.20" stroke="#3a3a3a" stroke-width="1"/>
<text transform="translate(433.70 185.70) " font-size="6.5" text-anchor="end">1</text>
<path d="M434.40 156.28H436.20" stroke="#3a3a3a" stroke-width="1"/>
<text transform="translate(433.70 159.08) " font-size="6.5" text-anchor="end">2</text>
<path d="M434.40 129.65H436.20" stroke="#3a3a3a" stroke-width="1"/>
<text transform="translate(433.70 132.45) " font-size="6.5" text-anchor="end">3</text>
<path d="M434.40 103.03H436.20" stroke="#3a3a3a" stroke-width="1"/>
<text transform="translate(433.70 105.83) " font-size="6.5" text-anchor="end">4</text>
<path d="M434.40 76.40H436.20" stroke="#3a3a3a" stroke-width="1"/>
<text transform="translate(433.70 79.20) " font-size="6.5" text-anchor="end">5</text>
<path d="M460.70 182.90V184.70" stroke="#3a3a3a" stroke-width="1"/>
<text transform="translate(460.40 192.10)" font-size="6.1" letter-spacing="1.1" text-anchor="middle" stroke="#000" stroke-width="0.1">149m</text>
<path d="M497.60 182.90V184.70" stroke="#3a3a3a" stroke-width="1"/>
<text transform="translate(497.30 192.10)" font-size="6.1" letter-spacing="1.1" text-anchor="middle" stroke="#000" stroke-width="0.1">542m</text>
<path d="M534.50 182.90V184.70" stroke="#3a3a3a" stroke-width="1"/>
<text transform="translate(534.20 192.10)" font-size="6.1" letter-spacing="1.1" text-anchor="middle" stroke="#000" stroke-width="0.1">762m</text>
<path d="M571.40 182.90V184.70" stroke="#3a3a3a" stroke-width="1"/>
<text transform="translate(571.10 192.10)" font-size="6.1" letter-spacing="1.1" text-anchor="middle" stroke="#000" stroke-width="0.1">1209m</text>
<text transform="translate(516.10 206.30)" font-size="6.5" letter-spacing="0.95" text-anchor="middle">Population</text>
<text transform="translate(426.90 193.50) rotate(-90)" font-size="6.4" letter-spacing="0.9" stroke="#000" stroke-width="0.12">Saliva viral titer (Log10 particles)</text>
<circle cx="460.70" cy="182.90" r="2.55" fill="#ff6600"/>
<circle cx="497.50" cy="176.00" r="2.55" fill="#008000"/>
<circle cx="534.20" cy="117.00" r="2.5" fill="#9e6412"/>
<circle cx="571.20" cy="156.20" r="2.5" fill="#0000c8"/>
</g>
<g>
<path d="M437.70 230.70V336.90H597.70" fill="none" stroke="#3a3a3a" stroke-width="1.1"/>
<path d="M435.90 336.90H437.70" stroke="#3a3a3a" stroke-width="1"/>
<text transform="translate(435.20 339.70) " font-size="6.5" text-anchor="end">0</text>
<path d="M435.90 315.66H437.70" stroke="#3a3a3a" stroke-width="1"/>
<text transform="translate(435.20 318.46) " font-size="6.5" text-anchor="end">1</text>
<path d="M435.90 294.42H437.70" stroke="#3a3a3a" stroke-width="1"/>
<text transform="translate(435.20 297.22) " font-size="6.5" text-anchor="end">2</text>
<path d="M435.90 273.18H437.70" stroke="#3a3a3a" stroke-width="1"/>
<text transform="translate(435.20 275.98) " font-size="6.5" text-anchor="end">3</text>
<path d="M435.90 251.94H437.70" stroke="#3a3a3a" stroke-width="1"/>
<text transform="translate(435.20 254.74) " font-size="6.5" text-anchor="end">4</text>
<path d="M435.90 230.70H437.70" stroke="#3a3a3a" stroke-width="1"/>
<text transform="translate(435.20 233.50) " font-size="6.5" text-anchor="end">5</text>
<path d="M462.40 336.90V338.70" stroke="#3a3a3a" stroke-width="1"/>
<text transform="translate(462.10 346.10)" font-size="6.1" letter-spacing="1.1" text-anchor="middle" stroke="#000" stroke-width="0.1">149m</text>
<path d="M499.30 336.90V338.70" stroke="#3a3a3a" stroke-width="1"/>
<text transform="translate(499.00 346.10)" font-size="6.1" letter-spacing="1.1" text-anchor="middle" stroke="#000" stroke-width="0.1">542m</text>
<path d="M536.20 336.90V338.70" stroke="#3a3a3a" stroke-width="1"/>
<text transform="translate(535.90 346.10)" font-size="6.1" letter-spacing="1.1" text-anchor="middle" stroke="#000" stroke-width="0.1">762m</text>
<path d="M573.10 336.90V338.70" stroke="#3a3a3a" stroke-width="1"/>
<text transform="translate(572.80 346.10)" font-size="6.1" letter-spacing="1.1" text-anchor="middle" stroke="#000" stroke-width="0.1">1209m</text>
<text transform="translate(517.60 360.30)" font-size="6.5" letter-spacing="0.95" text-anchor="middle">Population</text>
<text transform="translate(428.30 347.40) rotate(-90)" font-size="6.4" letter-spacing="0.9" stroke="#000" stroke-width="0.12">Saliva viral titer (Log10 particles)</text>
<path d="M447.10 299.50H477.70" stroke="#333" stroke-width="1.3"/>
<path d="M484.00 314.50H514.60" stroke="#333" stroke-width="1.3"/>
<path d="M520.90 281.30H551.50" stroke="#333" stroke-width="1.3"/>
<path d="M557.80 307.30H588.40" stroke="#333" stroke-width="1.3"/>
<circle cx="465.90" cy="281.70" r="2.55" fill="#ff6600"/>
<circle cx="458.70" cy="288.00" r="2.55" fill="#ff6600"/>
<circle cx="462.30" cy="300.70" r="2.55" fill="#ff6600"/>
<circle cx="462.30" cy="310.40" r="2.55" fill="#ff6600"/>
<circle cx="455.10" cy="320.30" r="2.55" fill="#ff6600"/>
<circle cx="469.50" cy="320.30" r="2.55" fill="#ff6600"/>
<circle cx="458.70" cy="324.30" r="2.55" fill="#ff6600"/>
<circle cx="465.80" cy="324.30" r="2.55" fill="#ff6600"/>
<circle cx="468.50" cy="324.30" r="2.55" fill="#ff6600"/>
<circle cx="456.10" cy="330.70" r="2.55" fill="#ff6600"/>
<circle cx="460.30" cy="330.70" r="2.55" fill="#ff6600"/>
<circle cx="464.30" cy="330.70" r="2.55" fill="#ff6600"/>
<circle cx="499.20" cy="303.30" r="2.55" fill="#008000"/>
<circle cx="495.60" cy="310.20" r="2.55" fill="#008000"/>
<circle cx="502.80" cy="315.70" r="2.55" fill="#008000"/>
<circle cx="490.00" cy="324.20" r="2.55" fill="#008000"/>
<circle cx="508.40" cy="324.20" r="2.55" fill="#008000"/>
<circle cx="496.20" cy="330.60" r="2.55" fill="#008000"/>
<circle cx="502.30" cy="330.60" r="2.55" fill="#008000"/>
<circle cx="539.80" cy="264.00" r="2.55" fill="#9e6412"/>
<circle cx="532.50" cy="268.80" r="2.55" fill="#9e6412"/>
<circle cx="536.00" cy="276.40" r="2.55" fill="#9e6412"/>
<circle cx="536.00" cy="288.10" r="2.55" fill="#9e6412"/>
<circle cx="532.50" cy="296.80" r="2.55" fill="#9e6412"/>
<circle cx="543.40" cy="303.80" r="2.55" fill="#9e6412"/>
<circle cx="539.50" cy="306.20" r="2.55" fill="#9e6412"/>
<circle cx="532.50" cy="311.40" r="2.55" fill="#9e6412"/>
<circle cx="543.40" cy="317.80" r="2.55" fill="#9e6412"/>
<circle cx="528.80" cy="320.40" r="2.55" fill="#9e6412"/>
<circle cx="536.00" cy="320.40" r="2.55" fill="#9e6412"/>
<circle cx="539.50" cy="324.30" r="2.55" fill="#9e6412"/>
<circle cx="532.50" cy="330.70" r="2.55" fill="#9e6412"/>
<circle cx="573.00" cy="296.50" r="2.55" fill="#0000c8"/>
<circle cx="565.80" cy="305.50" r="2.55" fill="#0000c8"/>
<circle cx="573.00" cy="304.30" r="2.55" fill="#0000c8"/>
<circle cx="580.20" cy="310.10" r="2.55" fill="#0000c8"/>
<circle cx="573.00" cy="312.50" r="2.55" fill="#0000c8"/>
<circle cx="569.30" cy="315.70" r="2.55" fill="#0000c8"/>
<circle cx="576.70" cy="320.40" r="2.55" fill="#0000c8"/>
<circle cx="573.00" cy="330.70" r="2.55" fill="#0000c8"/>
</g>
<g>
<path d="M439.00 386.50V492.40H599.00" fill="none" stroke="#3a3a3a" stroke-width="1.1"/>
<path d="M437.20 492.40H439.00" stroke="#3a3a3a" stroke-width="1"/>
<text transform="translate(436.30 495.20) " font-size="6.5" text-anchor="end">0</text>
<path d="M437.20 471.22H439.00" stroke="#3a3a3a" stroke-width="1"/>
<text transform="translate(436.30 474.02) " font-size="6.5" text-anchor="end">1</text>
<path d="M437.20 450.04H439.00" stroke="#3a3a3a" stroke-width="1"/>
<text transform="translate(436.30 452.84) " font-size="6.5" text-anchor="end">2</text>
<path d="M437.20 428.86H439.00" stroke="#3a3a3a" stroke-width="1"/>
<text transform="translate(436.30 431.66) " font-size="6.5" text-anchor="end">3</text>
<path d="M437.20 407.68H439.00" stroke="#3a3a3a" stroke-width="1"/>
<text transform="translate(436.30 410.48) " font-size="6.5" text-anchor="end">4</text>
<path d="M437.20 386.50H439.00" stroke="#3a3a3a" stroke-width="1"/>
<text transform="translate(436.30 389.30) " font-size="6.5" text-anchor="end">5</text>
<path d="M463.40 492.40V494.20" stroke="#3a3a3a" stroke-width="1"/>
<text transform="translate(463.10 501.60)" font-size="6.1" letter-spacing="1.1" text-anchor="middle" stroke="#000" stroke-width="0.1">149m</text>
<path d="M500.30 492.40V494.20" stroke="#3a3a3a" stroke-width="1"/>
<text transform="translate(500.00 501.60)" font-size="6.1" letter-spacing="1.1" text-anchor="middle" stroke="#000" stroke-width="0.1">542m</text>
<path d="M537.20 492.40V494.20" stroke="#3a3a3a" stroke-width="1"/>
<text transform="translate(536.90 501.60)" font-size="6.1" letter-spacing="1.1" text-anchor="middle" stroke="#000" stroke-width="0.1">762m</text>
<path d="M574.10 492.40V494.20" stroke="#3a3a3a" stroke-width="1"/>
<text transform="translate(573.80 501.60)" font-size="6.1" letter-spacing="1.1" text-anchor="middle" stroke="#000" stroke-width="0.1">1209m</text>
<text transform="translate(518.90 515.80)" font-size="6.5" letter-spacing="0.95" text-anchor="middle">Population</text>
<text transform="translate(429.30 502.80) rotate(-90)" font-size="6.4" letter-spacing="0.9" stroke="#000" stroke-width="0.12">Saliva viral titer (Log10 particles)</text>
<path d="M448.10 466.70H478.70" stroke="#333" stroke-width="1.3"/>
<path d="M485.00 460.50H515.60" stroke="#333" stroke-width="1.3"/>
<path d="M521.90 458.40H552.50" stroke="#333" stroke-width="1.3"/>
<path d="M558.80 470.20H589.40" stroke="#333" stroke-width="1.3"/>
<circle cx="463.40" cy="455.50" r="2.55" fill="#ff6600"/>
<circle cx="463.40" cy="466.70" r="2.55" fill="#ff6600"/>
<circle cx="456.35" cy="479.60" r="2.55" fill="#ff6600"/>
<circle cx="470.60" cy="479.60" r="2.55" fill="#ff6600"/>
<circle cx="463.40" cy="485.90" r="2.55" fill="#ff6600"/>
<circle cx="503.90" cy="451.60" r="2.55" fill="#008000"/>
<circle cx="496.60" cy="455.60" r="2.55" fill="#008000"/>
<circle cx="496.60" cy="473.20" r="2.55" fill="#008000"/>
<circle cx="503.90" cy="473.20" r="2.55" fill="#008000"/>
<circle cx="500.10" cy="485.90" r="2.55" fill="#008000"/>
<circle cx="537.20" cy="449.20" r="2.55" fill="#9e6412"/>
<circle cx="529.80" cy="452.60" r="2.55" fill="#9e6412"/>
<circle cx="548.05" cy="456.20" r="2.55" fill="#9e6412"/>
<circle cx="537.20" cy="458.40" r="2.55" fill="#9e6412"/>
<circle cx="544.20" cy="462.30" r="2.55" fill="#9e6412"/>
<circle cx="529.80" cy="464.90" r="2.55" fill="#9e6412"/>
<circle cx="537.20" cy="466.70" r="2.55" fill="#9e6412"/>
<circle cx="540.70" cy="473.20" r="2.55" fill="#9e6412"/>
<circle cx="533.45" cy="476.00" r="2.55" fill="#9e6412"/>
<circle cx="574.00" cy="463.80" r="2.55" fill="#0000c8"/>
<circle cx="570.50" cy="469.50" r="2.55" fill="#0000c8"/>
<circle cx="577.50" cy="473.20" r="2.55" fill="#0000c8"/>
<circle cx="574.00" cy="485.90" r="2.55" fill="#0000c8"/>
</g>
<g>
<path d="M438.60 540.10V646.40H598.60" fill="none" stroke="#3a3a3a" stroke-width="1.1"/>
<path d="M436.80 646.40H438.60" stroke="#3a3a3a" stroke-width="1"/>
<text transform="translate(436.30 649.20) " font-size="6.5" text-anchor="end">0</text>
<path d="M436.80 625.14H438.60" stroke="#3a3a3a" stroke-width="1"/>
<text transform="translate(436.30 627.94) " font-size="6.5" text-anchor="end">1</text>
<path d="M436.80 603.88H438.60" stroke="#3a3a3a" stroke-width="1"/>
<text transform="translate(436.30 606.68) " font-size="6.5" text-anchor="end">2</text>
<path d="M436.80 582.62H438.60" stroke="#3a3a3a" stroke-width="1"/>
<text transform="translate(436.30 585.42) " font-size="6.5" text-anchor="end">3</text>
<path d="M436.80 561.36H438.60" stroke="#3a3a3a" stroke-width="1"/>
<text transform="translate(436.30 564.16) " font-size="6.5" text-anchor="end">4</text>
<path d="M436.80 540.10H438.60" stroke="#3a3a3a" stroke-width="1"/>
<text transform="translate(436.30 542.90) " font-size="6.5" text-anchor="end">5</text>
<path d="M463.30 646.40V648.20" stroke="#3a3a3a" stroke-width="1"/>
<text transform="translate(463.00 655.60)" font-size="6.1" letter-spacing="1.1" text-anchor="middle" stroke="#000" stroke-width="0.1">149m</text>
<path d="M500.20 646.40V648.20" stroke="#3a3a3a" stroke-width="1"/>
<text transform="translate(499.90 655.60)" font-size="6.1" letter-spacing="1.1" text-anchor="middle" stroke="#000" stroke-width="0.1">542m</text>
<path d="M537.10 646.40V648.20" stroke="#3a3a3a" stroke-width="1"/>
<text transform="translate(536.80 655.60)" font-size="6.1" letter-spacing="1.1" text-anchor="middle" stroke="#000" stroke-width="0.1">762m</text>
<path d="M574.00 646.40V648.20" stroke="#3a3a3a" stroke-width="1"/>
<text transform="translate(573.70 655.60)" font-size="6.1" letter-spacing="1.1" text-anchor="middle" stroke="#000" stroke-width="0.1">1209m</text>
<text transform="translate(518.50 669.80)" font-size="6.5" letter-spacing="0.95" text-anchor="middle">Population</text>
<text transform="translate(429.30 657.20) rotate(-90)" font-size="6.4" letter-spacing="0.9" stroke="#000" stroke-width="0.12">Saliva viral titer (Log10 particles)</text>
<path d="M448.00 629.50H478.60" stroke="#333" stroke-width="1.3"/>
<path d="M484.90 612.90H515.50" stroke="#333" stroke-width="1.3"/>
<path d="M521.80 613.10H552.40" stroke="#333" stroke-width="1.3"/>
<path d="M558.70 603.50H589.30" stroke="#333" stroke-width="1.3"/>
<circle cx="459.70" cy="625.30" r="2.55" fill="#ff6600"/>
<circle cx="457.00" cy="627.30" r="2.55" fill="#ff6600"/>
<circle cx="466.90" cy="625.30" r="2.55" fill="#ff6600"/>
<circle cx="461.20" cy="630.10" r="2.55" fill="#ff6600"/>
<circle cx="465.80" cy="630.10" r="2.55" fill="#ff6600"/>
<circle cx="469.60" cy="630.10" r="2.55" fill="#ff6600"/>
<circle cx="466.90" cy="633.80" r="2.55" fill="#ff6600"/>
<circle cx="459.70" cy="640.30" r="2.55" fill="#ff6600"/>
<circle cx="500.10" cy="600.60" r="2.55" fill="#008000"/>
<circle cx="500.10" cy="630.10" r="2.55" fill="#008000"/>
<circle cx="496.40" cy="640.30" r="2.55" fill="#008000"/>
<circle cx="503.65" cy="640.30" r="2.55" fill="#008000"/>
<circle cx="533.30" cy="605.10" r="2.55" fill="#9e6412"/>
<circle cx="540.50" cy="606.50" r="2.55" fill="#9e6412"/>
<circle cx="529.80" cy="610.00" r="2.55" fill="#9e6412"/>
<circle cx="544.20" cy="612.65" r="2.55" fill="#9e6412"/>
<circle cx="537.00" cy="617.30" r="2.55" fill="#9e6412"/>
<circle cx="533.30" cy="625.40" r="2.55" fill="#9e6412"/>
<circle cx="540.50" cy="630.10" r="2.55" fill="#9e6412"/>
<circle cx="537.00" cy="640.30" r="2.55" fill="#9e6412"/>
<circle cx="573.70" cy="594.00" r="2.55" fill="#0000c8"/>
<circle cx="573.70" cy="625.40" r="2.55" fill="#0000c8"/>
<circle cx="573.70" cy="633.90" r="2.55" fill="#0000c8"/>
</g>
<g>
<path d="M439.50 694.30V800.50H599.50" fill="none" stroke="#3a3a3a" stroke-width="1.1"/>
<path d="M437.70 800.50H439.50" stroke="#3a3a3a" stroke-width="1"/>
<text transform="translate(437.40 803.30) " font-size="6.5" text-anchor="end">0</text>
<path d="M437.70 779.26H439.50" stroke="#3a3a3a" stroke-width="1"/>
<text transform="translate(437.40 782.06) " font-size="6.5" text-anchor="end">1</text>
<path d="M437.70 758.02H439.50" stroke="#3a3a3a" stroke-width="1"/>
<text transform="translate(437.40 760.82) " font-size="6.5" text-anchor="end">2</text>
<path d="M437.70 736.78H439.50" stroke="#3a3a3a" stroke-width="1"/>
<text transform="translate(437.40 739.58) " font-size="6.5" text-anchor="end">3</text>
<path d="M437.70 715.54H439.50" stroke="#3a3a3a" stroke-width="1"/>
<text transform="translate(437.40 718.34) " font-size="6.5" text-anchor="end">4</text>
<path d="M437.70 694.30H439.50" stroke="#3a3a3a" stroke-width="1"/>
<text transform="translate(437.40 697.10) " font-size="6.5" text-anchor="end">5</text>
<path d="M464.30 800.50V802.30" stroke="#3a3a3a" stroke-width="1"/>
<text transform="translate(464.00 809.70)" font-size="6.1" letter-spacing="1.1" text-anchor="middle" stroke="#000" stroke-width="0.1">149m</text>
<path d="M501.20 800.50V802.30" stroke="#3a3a3a" stroke-width="1"/>
<text transform="translate(500.90 809.70)" font-size="6.1" letter-spacing="1.1" text-anchor="middle" stroke="#000" stroke-width="0.1">542m</text>
<path d="M538.10 800.50V802.30" stroke="#3a3a3a" stroke-width="1"/>
<text transform="translate(537.80 809.70)" font-size="6.1" letter-spacing="1.1" text-anchor="middle" stroke="#000" stroke-width="0.1">762m</text>
<path d="M575.00 800.50V802.30" stroke="#3a3a3a" stroke-width="1"/>
<text transform="translate(574.70 809.70)" font-size="6.1" letter-spacing="1.1" text-anchor="middle" stroke="#000" stroke-width="0.1">1209m</text>
<text transform="translate(519.40 823.90)" font-size="6.5" letter-spacing="0.95" text-anchor="middle">Population</text>
<text transform="translate(430.30 811.30) rotate(-90)" font-size="6.4" letter-spacing="0.9" stroke="#000" stroke-width="0.12">Saliva viral titer (Log10 particles)</text>
<path d="M449.00 786.90H479.60" stroke="#333" stroke-width="1.3"/>
<path d="M485.90 773.10H516.50" stroke="#333" stroke-width="1.3"/>
<path d="M522.80 777.00H553.40" stroke="#333" stroke-width="1.3"/>
<path d="M559.70 782.50H590.30" stroke="#333" stroke-width="1.3"/>
<circle cx="460.70" cy="784.00" r="2.55" fill="#ff6600"/>
<circle cx="471.50" cy="784.00" r="2.55" fill="#ff6600"/>
<circle cx="467.70" cy="788.00" r="2.55" fill="#ff6600"/>
<circle cx="460.70" cy="794.40" r="2.55" fill="#ff6600"/>
<circle cx="497.50" cy="767.10" r="2.55" fill="#008000"/>
<circle cx="504.60" cy="770.00" r="2.55" fill="#008000"/>
<circle cx="493.70" cy="776.40" r="2.55" fill="#008000"/>
<circle cx="501.10" cy="779.60" r="2.55" fill="#008000"/>
<circle cx="508.30" cy="779.60" r="2.55" fill="#008000"/>
<circle cx="538.00" cy="768.80" r="2.35" fill="#9e6412"/>
<circle cx="538.00" cy="784.20" r="2.35" fill="#9e6412"/>
<circle cx="538.00" cy="794.40" r="2.35" fill="#9e6412"/>
<circle cx="571.30" cy="776.60" r="2.55" fill="#0000c8"/>
<circle cx="578.30" cy="776.60" r="2.55" fill="#0000c8"/>
<circle cx="571.30" cy="784.20" r="2.55" fill="#0000c8"/>
<circle cx="578.30" cy="784.20" r="2.55" fill="#0000c8"/>
<circle cx="571.30" cy="794.40" r="2.55" fill="#0000c8"/>
<circle cx="578.30" cy="794.40" r="2.55" fill="#0000c8"/>
</g>
</svg></body></html>
